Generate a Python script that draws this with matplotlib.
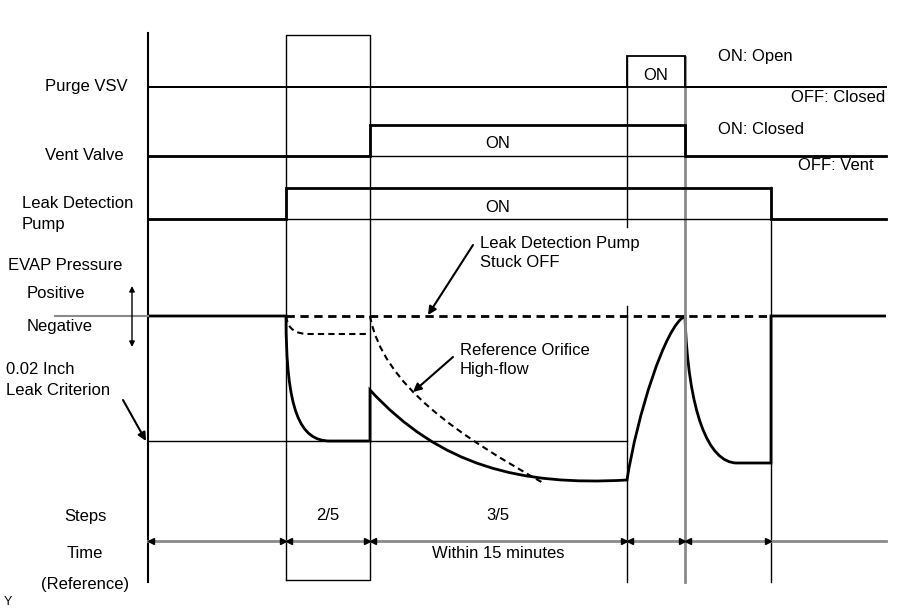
import matplotlib.pyplot as plt
from matplotlib.path import Path
from matplotlib.patches import PathPatch

plt.rcParams['font.family'] = ['Liberation Sans', 'DejaVu Sans']

# time axis of the schematic (event boundaries)
t_events = [148, 286, 370, 627, 685, 771, 886]

# signal state per interval (1 = ON)
purge_on = [0, 0, 0, 1, 0, 0]
vent_on = [0, 0, 1, 1, 0, 0]
pump_on = [0, 1, 1, 1, 1, 0]

# EVAP pressure relative to atmosphere (0), nodes
# M = move, L = line, C = bezier control/end point
press_t = [148, 286, 286, 300, 330, 370, 370, 440, 520, 627, 637, 665, 685, 688, 708, 737, 771, 771, 886]
press_p = [0, 0, -95, -125, -125, -125, -74, -150, -170, -164, -100, -10, 0, -95, -147, -147, -147, 0, 0]
press_seg = 'MLCCCLLCCCCCCCCCLLL'

# reference orifice (dashed)
ref_a_t = [286, 288, 296, 310, 370]
ref_a_p = [0, -14, -18, -18, -18]
ref_a_seg = 'MCCCL'
ref_b_t = [370, 383, 460, 545]
ref_b_p = [0, -70, -120, -168]
ref_b_seg = 'MCCC'

leak_criterion = -125

row_labels = ['Purge VSV', 'Vent Valve', 'Leak Detection\nPump']
step_labels = ['2/5', '3/5']

fig = plt.figure(figsize=(9.06, 6.1), dpi=100)
ax = fig.add_axes([0, 0, 1, 1])
ax.set_xlim(0, 906)
ax.set_ylim(610, 0)
ax.axis('off')

FS = 12
K = 'black'
G = '#8a8a8a'
p0 = 316  # zero pressure level
CODES = {'M': Path.MOVETO, 'L': Path.LINETO, 'C': Path.CURVE4}


def py(v):
    return p0 - v


def curve(ts, ps, seg, **kw):
    verts = [(t, py(p)) for t, p in zip(ts, ps)]
    path = Path(verts, [CODES[c] for c in seg])
    ax.add_patch(PathPatch(path, fill=False, edgecolor=K, **kw))


def step_signal(states, base, lw_sig, lw_base=1.0):
    hi = base - 31
    ax.plot([t_events[0], t_events[-1]], [base, base], color=K, lw=lw_base)
    xs, ys = [], []
    for i, s in enumerate(states):
        y = hi if s else base
        xs += [t_events[i], t_events[i + 1]]
        ys += [y, y]
    ax.plot(xs, ys, color=K, lw=lw_sig, solid_joinstyle='miter')


# frame lines
ax.plot([148, 148], [33, 582], color=K, lw=1.5)
ax.plot([286, 286, 370, 370, 286], [580, 35, 35, 580, 580], color=K, lw=1.0)
ax.plot([627, 627], [57, 227], color=K, lw=1.0)
ax.plot([627, 627], [306, 582], color=K, lw=1.0)
ax.plot([685, 685], [57, 582], color=G, lw=2.0)
ax.plot([771, 771], [187, 582], color=K, lw=1.0)

# signals
step_signal(purge_on, 87, 1.3, 1.3)
step_signal(vent_on, 156, 2.0)
step_signal(pump_on, 219, 2.0)

# row labels
ax.text(45, 87, row_labels[0], fontsize=FS, va='center')
ax.text(45, 156, row_labels[1], fontsize=FS, va='center')
ax.text(22, 214, row_labels[2], fontsize=FS, va='center', linespacing=1.45)
ax.text(656, 75, 'ON', fontsize=FS, ha='center', va='center')
ax.text(498, 143, 'ON', fontsize=FS, ha='center', va='center')
ax.text(498, 207, 'ON', fontsize=FS, ha='center', va='center')
ax.text(718, 57, 'ON: Open', fontsize=FS, va='center')
ax.text(885, 98, 'OFF: Closed', fontsize=FS, va='center', ha='right')
ax.text(718, 129, 'ON: Closed', fontsize=FS, va='center')
ax.text(874, 166, 'OFF: Vent', fontsize=FS, va='center', ha='right')

# EVAP pressure
ax.plot([55, 148], [p0, p0], color=G, lw=1.5)
ax.plot([148, 627], [py(leak_criterion)] * 2, color=K, lw=1.0)
ax.plot([286, 771], [p0, p0], color=K, lw=2.0, ls=(0, (3, 2)))
curve(ref_a_t, ref_a_p, ref_a_seg, lw=1.5, ls=(0, (3, 2)))
curve(ref_b_t, ref_b_p, ref_b_seg, lw=1.5, ls=(0, (3, 2)))
curve(press_t, press_p, press_seg, lw=2.0, joinstyle='miter')

ax.text(8, 265, 'EVAP Pressure', fontsize=FS, va='center')
ax.text(27, 293, 'Positive', fontsize=FS, va='center')
ax.text(27, 327, 'Negative', fontsize=FS, va='center')
ax.text(6, 380, '0.02 Inch\nLeak Criterion', fontsize=FS, va='center', linespacing=1.45)
ax.annotate('', xy=(132, 286), xytext=(132, 347),
            arrowprops=dict(arrowstyle='<|-|>', color=K, lw=1.0, mutation_scale=8,
                            shrinkA=0, shrinkB=0))
ax.annotate('', xy=(146, 441), xytext=(123, 400),
            arrowprops=dict(arrowstyle='-|>', color=K, lw=1.5, mutation_scale=12,
                            shrinkA=0, shrinkB=0))
ax.text(480, 253, 'Leak Detection Pump\nStuck OFF', fontsize=FS, va='center', linespacing=1.4)
ax.annotate('', xy=(428, 315), xytext=(473, 245),
            arrowprops=dict(arrowstyle='-|>', color=K, lw=1.5, mutation_scale=12,
                            shrinkA=0, shrinkB=0))
ax.text(460, 360, 'Reference Orifice\nHigh-flow', fontsize=FS, va='center', linespacing=1.4)
ax.annotate('', xy=(413, 392), xytext=(453, 357),
            arrowprops=dict(arrowstyle='-|>', color=K, lw=1.5, mutation_scale=12,
                            shrinkA=0, shrinkB=0))

# steps / time
ax.text(85, 516, 'Steps', fontsize=FS, ha='center', va='center')
ax.text(328, 516, step_labels[0], fontsize=FS, ha='center', va='center')
ax.text(498, 516, step_labels[1], fontsize=FS, ha='center', va='center')
ax.plot([148, 886], [541, 541], color=G, lw=2.0)
for a, b in zip(t_events[:-2], t_events[1:-1]):
    ax.plot([a + 3], [541], marker='<', color=K, ms=4.5, ls='none')
    ax.plot([b - 3], [541], marker='>', color=K, ms=4.5, ls='none')
ax.text(85, 553, 'Time', fontsize=FS, ha='center', va='center')
ax.text(498, 553, 'Within 15 minutes', fontsize=FS, ha='center', va='center')
ax.text(85, 585, '(Reference)', fontsize=FS, ha='center', va='center')
ax.text(4, 602, 'Y', fontsize=9, va='center')

fig.savefig('out.png', dpi=100)
